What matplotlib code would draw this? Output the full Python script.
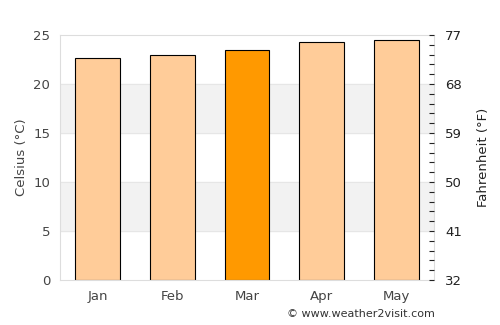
import numpy as np
import matplotlib.pyplot as plt

months = ['Jan', 'Feb', 'Mar', 'Apr', 'May']
celsius = [22.7, 23.0, 23.5, 24.25, 24.55]
highlight = 'Mar'
f_ticks = [32, 41, 50, 59, 68, 77]

light = '#ffcc99'
dark = '#ff9900'
txt = '#444444'

fig = plt.figure(figsize=(5, 3.25), dpi=100)
ax = fig.add_axes([0.12, 0.1385, 0.748, 0.7535])

# alternating bands
for lo in (5, 15):
    ax.axhspan(lo, lo + 5, color='#f2f2f2', zorder=0)
for y in (5, 10, 15, 20):
    ax.axhline(y, color='#e6e6e6', lw=0.8, zorder=0.5)

x = np.arange(len(months))
colors = [dark if m == highlight else light for m in months]
ax.bar(x, celsius, width=0.6, color=colors, edgecolor='black', linewidth=0.8, zorder=2)

ax.set_xlim(-0.5, len(months) - 0.5)
ax.set_ylim(0, 25)
ax.set_xticks(x)
ax.set_xticklabels(months)
ax.set_yticks(range(0, 26, 5))
ax.tick_params(axis='both', length=0, colors=txt, labelsize=9.5, pad=7)
ax.set_ylabel('Celsius (°C)', color=txt, fontsize=9.5, labelpad=4)
for s in ax.spines.values():
    s.set_color('#dddddd')
    s.set_linewidth(0.8)

ax2 = ax.twinx()
ax2.set_ylim(32, 77)
ax2.set_yticks(f_ticks)
ax2.set_yticks(np.arange(32, 77.1, 1.8), minor=True)
ax2.tick_params(axis='y', which='both', direction='in', length=3.5, width=0.8,
                colors='#222222', labelcolor='#222222', labelsize=9.5, pad=8)
ax2.set_ylabel('Fahrenheit (°F)', color='#222222', fontsize=9.5, labelpad=11)
for s in ax2.spines.values():
    s.set_visible(False)

fig.text(0.87, 0.035, '© www.weather2visit.com', ha='right', va='center',
         fontsize=8, color='#333333')

fig.savefig('out.png', dpi=100)
